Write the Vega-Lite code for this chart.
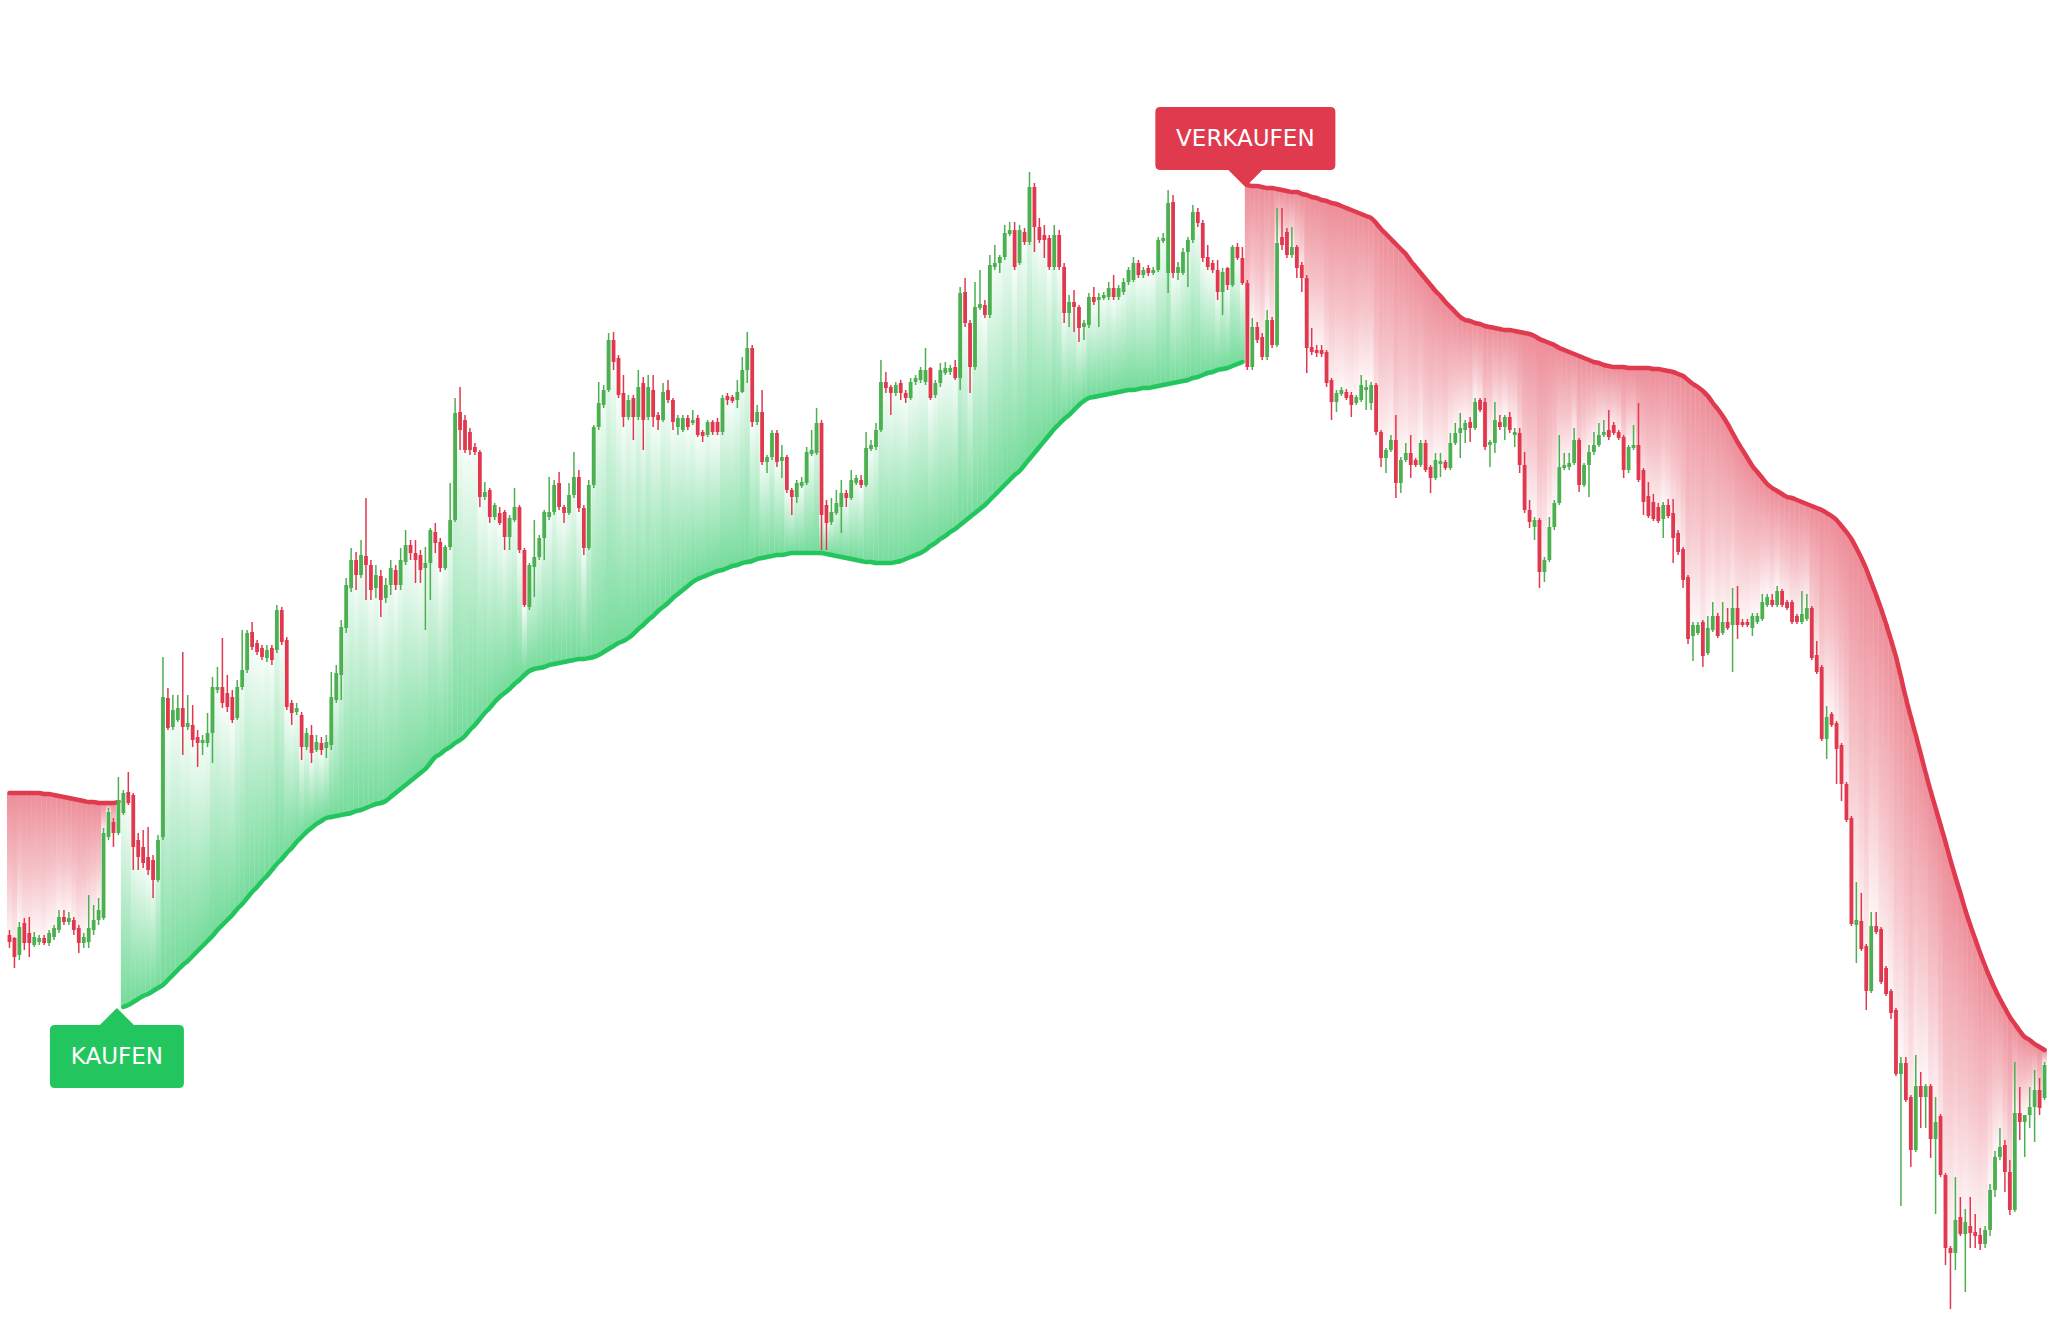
{
"$schema": "https://vega.github.io/schema/vega-lite/v6.json",
"width": 2054, "height": 1342,
"autosize": {"type": "fit", "contains": "padding"},
"padding": 0,
"background": "#ffffff",
"config": {"view": {"stroke": null}},
"datasets": {
"signals": [
{"i":21.7,"v":1008,"lbl":"KAUFEN"},
{"i":249.6,"v":187,"lbl":"VERKAUFEN"}
],
"candles": [
{"i":0,"o":935,"h":930,"l":948,"c":942,"s":793,"g":"a"},
{"i":1,"o":938,"h":937,"l":968,"c":957,"s":793,"g":"a"},
{"i":2,"o":955,"h":922,"l":960,"c":927,"s":793,"g":"a"},
{"i":3,"o":923,"h":918,"l":950,"c":943,"s":793,"g":"a"},
{"i":4,"o":933,"h":917,"l":957,"c":943,"s":793,"g":"a"},
{"i":5,"o":945,"h":932,"l":947,"c":937,"s":793,"g":"a"},
{"i":6,"o":942,"h":935,"l":945,"c":938,"s":793,"g":"a"},
{"i":7,"o":938,"h":935,"l":945,"c":943,"s":794,"g":"a"},
{"i":8,"o":943,"h":930,"l":946,"c":933,"s":794,"g":"a"},
{"i":9,"o":937,"h":925,"l":940,"c":928,"s":795,"g":"a"},
{"i":10,"o":930,"h":910,"l":933,"c":917,"s":796,"g":"a"},
{"i":11,"o":917,"h":910,"l":925,"c":922,"s":797,"g":"a"},
{"i":12,"o":922,"h":912,"l":925,"c":918,"s":798,"g":"a"},
{"i":13,"o":920,"h":917,"l":935,"c":930,"s":799,"g":"a"},
{"i":14,"o":928,"h":925,"l":953,"c":943,"s":800,"g":"a"},
{"i":15,"o":943,"h":933,"l":948,"c":937,"s":801,"g":"a"},
{"i":16,"o":942,"h":895,"l":948,"c":928,"s":802,"g":"a"},
{"i":17,"o":930,"h":905,"l":935,"c":920,"s":802,"g":"a"},
{"i":18,"o":920,"h":898,"l":925,"c":910,"s":803,"g":"a"},
{"i":19,"o":918,"h":828,"l":920,"c":833,"s":803,"g":"a"},
{"i":20,"o":837,"h":808,"l":840,"c":812,"s":803,"g":"a"},
{"i":21,"o":822,"h":818,"l":847,"c":833,"s":803,"g":"a"},
{"i":22,"o":833,"h":777,"l":835,"c":800,"s":802,"g":"a"},
{"i":23,"o":813,"h":790,"l":815,"c":793,"s":1007,"g":"b"},
{"i":24,"o":792,"h":772,"l":805,"c":803,"s":1005,"g":"b"},
{"i":25,"o":795,"h":793,"l":870,"c":847,"s":1002,"g":"b"},
{"i":26,"o":840,"h":833,"l":870,"c":857,"s":999,"g":"b"},
{"i":27,"o":847,"h":830,"l":868,"c":863,"s":996,"g":"b"},
{"i":28,"o":857,"h":827,"l":875,"c":870,"s":994,"g":"b"},
{"i":29,"o":860,"h":855,"l":898,"c":880,"s":991,"g":"b"},
{"i":30,"o":880,"h":835,"l":882,"c":840,"s":988,"g":"b"},
{"i":31,"o":837,"h":657,"l":840,"c":697,"s":985,"g":"b"},
{"i":32,"o":698,"h":688,"l":730,"c":728,"s":980,"g":"b"},
{"i":33,"o":727,"h":695,"l":730,"c":710,"s":975,"g":"b"},
{"i":34,"o":720,"h":695,"l":722,"c":708,"s":970,"g":"b"},
{"i":35,"o":708,"h":652,"l":755,"c":727,"s":965,"g":"b"},
{"i":36,"o":727,"h":695,"l":730,"c":723,"s":961,"g":"b"},
{"i":37,"o":725,"h":705,"l":747,"c":740,"s":956,"g":"b"},
{"i":38,"o":737,"h":730,"l":767,"c":743,"s":951,"g":"b"},
{"i":39,"o":743,"h":735,"l":755,"c":740,"s":946,"g":"b"},
{"i":40,"o":743,"h":713,"l":747,"c":733,"s":941,"g":"b"},
{"i":41,"o":733,"h":677,"l":763,"c":687,"s":936,"g":"b"},
{"i":42,"o":690,"h":667,"l":693,"c":687,"s":930,"g":"b"},
{"i":43,"o":687,"h":638,"l":708,"c":703,"s":925,"g":"b"},
{"i":44,"o":693,"h":675,"l":712,"c":707,"s":920,"g":"b"},
{"i":45,"o":697,"h":690,"l":723,"c":720,"s":915,"g":"b"},
{"i":46,"o":718,"h":680,"l":720,"c":687,"s":909,"g":"b"},
{"i":47,"o":687,"h":630,"l":690,"c":670,"s":904,"g":"b"},
{"i":48,"o":670,"h":630,"l":673,"c":633,"s":898,"g":"b"},
{"i":49,"o":632,"h":622,"l":650,"c":647,"s":892,"g":"b"},
{"i":50,"o":643,"h":640,"l":655,"c":652,"s":887,"g":"b"},
{"i":51,"o":648,"h":645,"l":660,"c":657,"s":881,"g":"b"},
{"i":52,"o":658,"h":645,"l":662,"c":650,"s":876,"g":"b"},
{"i":53,"o":648,"h":645,"l":665,"c":660,"s":870,"g":"b"},
{"i":54,"o":650,"h":605,"l":653,"c":610,"s":864,"g":"b"},
{"i":55,"o":610,"h":607,"l":645,"c":642,"s":859,"g":"b"},
{"i":56,"o":640,"h":637,"l":710,"c":707,"s":853,"g":"b"},
{"i":57,"o":703,"h":700,"l":725,"c":713,"s":848,"g":"b"},
{"i":58,"o":712,"h":703,"l":715,"c":708,"s":842,"g":"b"},
{"i":59,"o":715,"h":712,"l":760,"c":747,"s":837,"g":"b"},
{"i":60,"o":747,"h":728,"l":750,"c":733,"s":832,"g":"b"},
{"i":61,"o":735,"h":725,"l":763,"c":753,"s":828,"g":"b"},
{"i":62,"o":750,"h":735,"l":752,"c":742,"s":824,"g":"b"},
{"i":63,"o":743,"h":737,"l":755,"c":750,"s":821,"g":"b"},
{"i":64,"o":748,"h":735,"l":758,"c":742,"s":818,"g":"b"},
{"i":65,"o":745,"h":672,"l":750,"c":697,"s":817,"g":"b"},
{"i":66,"o":700,"h":665,"l":703,"c":673,"s":816,"g":"b"},
{"i":67,"o":675,"h":620,"l":700,"c":627,"s":815,"g":"b"},
{"i":68,"o":628,"h":578,"l":633,"c":585,"s":814,"g":"b"},
{"i":69,"o":588,"h":548,"l":592,"c":560,"s":813,"g":"b"},
{"i":70,"o":560,"h":552,"l":590,"c":575,"s":811,"g":"b"},
{"i":71,"o":575,"h":540,"l":578,"c":555,"s":810,"g":"b"},
{"i":72,"o":556,"h":498,"l":600,"c":565,"s":808,"g":"b"},
{"i":73,"o":565,"h":560,"l":600,"c":590,"s":806,"g":"b"},
{"i":74,"o":588,"h":565,"l":598,"c":575,"s":804,"g":"b"},
{"i":75,"o":576,"h":570,"l":617,"c":600,"s":803,"g":"b"},
{"i":76,"o":598,"h":578,"l":603,"c":585,"s":801,"g":"b"},
{"i":77,"o":585,"h":560,"l":595,"c":568,"s":797,"g":"b"},
{"i":78,"o":570,"h":565,"l":590,"c":585,"s":793,"g":"b"},
{"i":79,"o":585,"h":548,"l":590,"c":560,"s":789,"g":"b"},
{"i":80,"o":562,"h":530,"l":565,"c":545,"s":785,"g":"b"},
{"i":81,"o":545,"h":540,"l":560,"c":553,"s":781,"g":"b"},
{"i":82,"o":553,"h":540,"l":583,"c":560,"s":777,"g":"b"},
{"i":83,"o":555,"h":550,"l":583,"c":570,"s":773,"g":"b"},
{"i":84,"o":568,"h":547,"l":630,"c":563,"s":769,"g":"b"},
{"i":85,"o":563,"h":528,"l":600,"c":530,"s":763,"g":"b"},
{"i":86,"o":532,"h":523,"l":553,"c":543,"s":757,"g":"b"},
{"i":87,"o":542,"h":538,"l":572,"c":568,"s":754,"g":"b"},
{"i":88,"o":568,"h":545,"l":570,"c":547,"s":750,"g":"b"},
{"i":89,"o":547,"h":483,"l":550,"c":520,"s":747,"g":"b"},
{"i":90,"o":520,"h":398,"l":522,"c":413,"s":743,"g":"b"},
{"i":91,"o":412,"h":387,"l":450,"c":430,"s":740,"g":"b"},
{"i":92,"o":420,"h":415,"l":453,"c":450,"s":736,"g":"b"},
{"i":93,"o":432,"h":428,"l":455,"c":450,"s":730,"g":"b"},
{"i":94,"o":447,"h":443,"l":455,"c":452,"s":725,"g":"b"},
{"i":95,"o":452,"h":450,"l":507,"c":497,"s":719,"g":"b"},
{"i":96,"o":497,"h":482,"l":500,"c":492,"s":713,"g":"b"},
{"i":97,"o":490,"h":488,"l":523,"c":517,"s":708,"g":"b"},
{"i":98,"o":517,"h":503,"l":520,"c":505,"s":702,"g":"b"},
{"i":99,"o":513,"h":507,"l":525,"c":523,"s":697,"g":"b"},
{"i":100,"o":512,"h":510,"l":550,"c":537,"s":693,"g":"b"},
{"i":101,"o":537,"h":515,"l":550,"c":518,"s":689,"g":"b"},
{"i":102,"o":520,"h":488,"l":522,"c":507,"s":684,"g":"b"},
{"i":103,"o":507,"h":505,"l":553,"c":550,"s":680,"g":"b"},
{"i":104,"o":550,"h":548,"l":607,"c":605,"s":675,"g":"b"},
{"i":105,"o":607,"h":563,"l":610,"c":565,"s":671,"g":"b"},
{"i":106,"o":567,"h":520,"l":597,"c":557,"s":669,"g":"b"},
{"i":107,"o":557,"h":535,"l":560,"c":538,"s":668,"g":"b"},
{"i":108,"o":538,"h":510,"l":560,"c":512,"s":667,"g":"b"},
{"i":109,"o":517,"h":477,"l":520,"c":512,"s":665,"g":"b"},
{"i":110,"o":512,"h":480,"l":515,"c":485,"s":664,"g":"b"},
{"i":111,"o":483,"h":472,"l":510,"c":507,"s":663,"g":"b"},
{"i":112,"o":507,"h":505,"l":523,"c":513,"s":662,"g":"b"},
{"i":113,"o":513,"h":483,"l":515,"c":495,"s":661,"g":"b"},
{"i":114,"o":495,"h":452,"l":498,"c":477,"s":660,"g":"b"},
{"i":115,"o":477,"h":470,"l":512,"c":508,"s":659,"g":"b"},
{"i":116,"o":508,"h":505,"l":555,"c":548,"s":659,"g":"b"},
{"i":117,"o":548,"h":480,"l":550,"c":485,"s":658,"g":"b"},
{"i":118,"o":485,"h":425,"l":488,"c":427,"s":657,"g":"b"},
{"i":119,"o":427,"h":382,"l":430,"c":403,"s":655,"g":"b"},
{"i":120,"o":405,"h":385,"l":408,"c":390,"s":652,"g":"b"},
{"i":121,"o":390,"h":333,"l":392,"c":340,"s":649,"g":"b"},
{"i":122,"o":340,"h":332,"l":370,"c":362,"s":646,"g":"b"},
{"i":123,"o":358,"h":355,"l":398,"c":395,"s":643,"g":"b"},
{"i":124,"o":393,"h":375,"l":427,"c":417,"s":641,"g":"b"},
{"i":125,"o":417,"h":395,"l":420,"c":400,"s":638,"g":"b"},
{"i":126,"o":398,"h":395,"l":440,"c":417,"s":634,"g":"b"},
{"i":127,"o":417,"h":370,"l":420,"c":387,"s":629,"g":"b"},
{"i":128,"o":383,"h":377,"l":450,"c":420,"s":625,"g":"b"},
{"i":129,"o":417,"h":375,"l":420,"c":387,"s":620,"g":"b"},
{"i":130,"o":390,"h":375,"l":427,"c":417,"s":616,"g":"b"},
{"i":131,"o":415,"h":412,"l":430,"c":420,"s":611,"g":"b"},
{"i":132,"o":420,"h":383,"l":422,"c":392,"s":607,"g":"b"},
{"i":133,"o":390,"h":380,"l":403,"c":400,"s":603,"g":"b"},
{"i":134,"o":400,"h":398,"l":430,"c":422,"s":598,"g":"b"},
{"i":135,"o":427,"h":415,"l":435,"c":418,"s":594,"g":"b"},
{"i":136,"o":430,"h":415,"l":432,"c":418,"s":590,"g":"b"},
{"i":137,"o":418,"h":415,"l":430,"c":427,"s":586,"g":"b"},
{"i":138,"o":423,"h":410,"l":425,"c":420,"s":582,"g":"b"},
{"i":139,"o":418,"h":415,"l":437,"c":435,"s":579,"g":"b"},
{"i":140,"o":432,"h":430,"l":442,"c":436,"s":577,"g":"b"},
{"i":141,"o":435,"h":420,"l":437,"c":422,"s":575,"g":"b"},
{"i":142,"o":422,"h":420,"l":435,"c":432,"s":573,"g":"b"},
{"i":143,"o":422,"h":418,"l":435,"c":432,"s":571,"g":"b"},
{"i":144,"o":432,"h":395,"l":435,"c":398,"s":570,"g":"b"},
{"i":145,"o":396,"h":393,"l":405,"c":400,"s":568,"g":"b"},
{"i":146,"o":397,"h":395,"l":403,"c":401,"s":566,"g":"b"},
{"i":147,"o":400,"h":380,"l":408,"c":392,"s":565,"g":"b"},
{"i":148,"o":392,"h":357,"l":393,"c":370,"s":563,"g":"b"},
{"i":149,"o":370,"h":332,"l":383,"c":348,"s":562,"g":"b"},
{"i":150,"o":348,"h":345,"l":427,"c":422,"s":561,"g":"b"},
{"i":151,"o":422,"h":405,"l":425,"c":412,"s":559,"g":"b"},
{"i":152,"o":412,"h":390,"l":465,"c":462,"s":558,"g":"b"},
{"i":153,"o":462,"h":455,"l":473,"c":457,"s":557,"g":"b"},
{"i":154,"o":457,"h":430,"l":460,"c":433,"s":556,"g":"b"},
{"i":155,"o":433,"h":430,"l":467,"c":462,"s":555,"g":"b"},
{"i":156,"o":461,"h":445,"l":478,"c":457,"s":555,"g":"b"},
{"i":157,"o":457,"h":455,"l":493,"c":490,"s":554,"g":"b"},
{"i":158,"o":490,"h":488,"l":515,"c":497,"s":553,"g":"b"},
{"i":159,"o":497,"h":480,"l":503,"c":483,"s":553,"g":"b"},
{"i":160,"o":486,"h":477,"l":488,"c":482,"s":553,"g":"b"},
{"i":161,"o":483,"h":447,"l":485,"c":452,"s":553,"g":"b"},
{"i":162,"o":454,"h":430,"l":456,"c":450,"s":553,"g":"b"},
{"i":163,"o":453,"h":408,"l":455,"c":423,"s":553,"g":"b"},
{"i":164,"o":423,"h":420,"l":550,"c":515,"s":553,"g":"b"},
{"i":165,"o":505,"h":500,"l":550,"c":523,"s":554,"g":"b"},
{"i":166,"o":522,"h":498,"l":525,"c":512,"s":555,"g":"b"},
{"i":167,"o":513,"h":490,"l":515,"c":503,"s":556,"g":"b"},
{"i":168,"o":507,"h":480,"l":533,"c":493,"s":557,"g":"b"},
{"i":169,"o":493,"h":490,"l":507,"c":498,"s":558,"g":"b"},
{"i":170,"o":498,"h":470,"l":500,"c":480,"s":559,"g":"b"},
{"i":171,"o":483,"h":475,"l":485,"c":478,"s":560,"g":"b"},
{"i":172,"o":480,"h":475,"l":488,"c":485,"s":561,"g":"b"},
{"i":173,"o":485,"h":432,"l":487,"c":448,"s":562,"g":"b"},
{"i":174,"o":449,"h":440,"l":451,"c":445,"s":562,"g":"b"},
{"i":175,"o":447,"h":423,"l":450,"c":430,"s":563,"g":"b"},
{"i":176,"o":430,"h":360,"l":432,"c":382,"s":563,"g":"b"},
{"i":177,"o":382,"h":372,"l":393,"c":388,"s":563,"g":"b"},
{"i":178,"o":387,"h":385,"l":415,"c":393,"s":563,"g":"b"},
{"i":179,"o":393,"h":382,"l":396,"c":385,"s":562,"g":"b"},
{"i":180,"o":383,"h":380,"l":400,"c":393,"s":561,"g":"b"},
{"i":181,"o":393,"h":390,"l":403,"c":398,"s":559,"g":"b"},
{"i":182,"o":398,"h":378,"l":400,"c":382,"s":557,"g":"b"},
{"i":183,"o":382,"h":375,"l":385,"c":378,"s":555,"g":"b"},
{"i":184,"o":380,"h":367,"l":383,"c":370,"s":553,"g":"b"},
{"i":185,"o":382,"h":348,"l":385,"c":370,"s":550,"g":"b"},
{"i":186,"o":368,"h":367,"l":400,"c":398,"s":546,"g":"b"},
{"i":187,"o":395,"h":380,"l":398,"c":383,"s":543,"g":"b"},
{"i":188,"o":383,"h":363,"l":387,"c":370,"s":539,"g":"b"},
{"i":189,"o":373,"h":362,"l":375,"c":368,"s":536,"g":"b"},
{"i":190,"o":372,"h":365,"l":375,"c":368,"s":532,"g":"b"},
{"i":191,"o":367,"h":360,"l":380,"c":378,"s":529,"g":"b"},
{"i":192,"o":378,"h":287,"l":390,"c":293,"s":525,"g":"b"},
{"i":193,"o":292,"h":278,"l":327,"c":323,"s":521,"g":"b"},
{"i":194,"o":323,"h":320,"l":393,"c":367,"s":517,"g":"b"},
{"i":195,"o":367,"h":282,"l":370,"c":307,"s":513,"g":"b"},
{"i":196,"o":308,"h":270,"l":310,"c":304,"s":509,"g":"b"},
{"i":197,"o":305,"h":300,"l":318,"c":315,"s":505,"g":"b"},
{"i":198,"o":315,"h":255,"l":318,"c":265,"s":500,"g":"b"},
{"i":199,"o":267,"h":245,"l":270,"c":263,"s":495,"g":"b"},
{"i":200,"o":263,"h":255,"l":273,"c":257,"s":490,"g":"b"},
{"i":201,"o":257,"h":225,"l":260,"c":233,"s":485,"g":"b"},
{"i":202,"o":234,"h":222,"l":236,"c":230,"s":480,"g":"b"},
{"i":203,"o":230,"h":222,"l":270,"c":267,"s":475,"g":"b"},
{"i":204,"o":263,"h":225,"l":265,"c":230,"s":471,"g":"b"},
{"i":205,"o":232,"h":228,"l":245,"c":242,"s":465,"g":"b"},
{"i":206,"o":242,"h":172,"l":245,"c":187,"s":459,"g":"b"},
{"i":207,"o":187,"h":183,"l":252,"c":227,"s":453,"g":"b"},
{"i":208,"o":227,"h":218,"l":243,"c":240,"s":447,"g":"b"},
{"i":209,"o":235,"h":225,"l":258,"c":240,"s":441,"g":"b"},
{"i":210,"o":238,"h":235,"l":270,"c":267,"s":435,"g":"b"},
{"i":211,"o":267,"h":225,"l":270,"c":235,"s":429,"g":"b"},
{"i":212,"o":235,"h":230,"l":270,"c":267,"s":424,"g":"b"},
{"i":213,"o":267,"h":263,"l":323,"c":313,"s":419,"g":"b"},
{"i":214,"o":313,"h":295,"l":327,"c":302,"s":415,"g":"b"},
{"i":215,"o":302,"h":290,"l":332,"c":307,"s":410,"g":"b"},
{"i":216,"o":307,"h":305,"l":342,"c":328,"s":405,"g":"b"},
{"i":217,"o":327,"h":320,"l":340,"c":323,"s":401,"g":"b"},
{"i":218,"o":325,"h":293,"l":328,"c":297,"s":398,"g":"b"},
{"i":219,"o":297,"h":287,"l":305,"c":302,"s":397,"g":"b"},
{"i":220,"o":300,"h":293,"l":327,"c":297,"s":396,"g":"b"},
{"i":221,"o":298,"h":292,"l":300,"c":295,"s":395,"g":"b"},
{"i":222,"o":297,"h":282,"l":300,"c":288,"s":394,"g":"b"},
{"i":223,"o":288,"h":275,"l":300,"c":297,"s":393,"g":"b"},
{"i":224,"o":297,"h":285,"l":300,"c":288,"s":392,"g":"b"},
{"i":225,"o":292,"h":278,"l":295,"c":282,"s":391,"g":"b"},
{"i":226,"o":282,"h":267,"l":285,"c":270,"s":390,"g":"b"},
{"i":227,"o":280,"h":257,"l":282,"c":263,"s":390,"g":"b"},
{"i":228,"o":263,"h":260,"l":278,"c":275,"s":389,"g":"b"},
{"i":229,"o":275,"h":267,"l":278,"c":270,"s":388,"g":"b"},
{"i":230,"o":268,"h":265,"l":276,"c":273,"s":388,"g":"b"},
{"i":231,"o":273,"h":267,"l":275,"c":270,"s":387,"g":"b"},
{"i":232,"o":270,"h":237,"l":272,"c":240,"s":386,"g":"b"},
{"i":233,"o":241,"h":233,"l":243,"c":238,"s":385,"g":"b"},
{"i":234,"o":273,"h":190,"l":293,"c":203,"s":384,"g":"b"},
{"i":235,"o":202,"h":195,"l":278,"c":273,"s":383,"g":"b"},
{"i":236,"o":273,"h":262,"l":280,"c":267,"s":382,"g":"b"},
{"i":237,"o":273,"h":248,"l":275,"c":252,"s":381,"g":"b"},
{"i":238,"o":252,"h":237,"l":287,"c":240,"s":380,"g":"b"},
{"i":239,"o":240,"h":205,"l":243,"c":212,"s":378,"g":"b"},
{"i":240,"o":212,"h":208,"l":227,"c":223,"s":377,"g":"b"},
{"i":241,"o":223,"h":220,"l":262,"c":258,"s":375,"g":"b"},
{"i":242,"o":257,"h":245,"l":270,"c":267,"s":373,"g":"b"},
{"i":243,"o":263,"h":260,"l":273,"c":270,"s":372,"g":"b"},
{"i":244,"o":270,"h":260,"l":300,"c":292,"s":370,"g":"b"},
{"i":245,"o":292,"h":268,"l":315,"c":272,"s":369,"g":"b"},
{"i":246,"o":268,"h":267,"l":290,"c":285,"s":368,"g":"b"},
{"i":247,"o":285,"h":245,"l":287,"c":247,"s":366,"g":"b"},
{"i":248,"o":247,"h":243,"l":260,"c":258,"s":364,"g":"b"},
{"i":249,"o":258,"h":247,"l":285,"c":283,"s":362,"g":"b"},
{"i":250,"o":283,"h":280,"l":370,"c":367,"s":185,"g":"c"},
{"i":251,"o":367,"h":318,"l":370,"c":327,"s":186,"g":"c"},
{"i":252,"o":327,"h":322,"l":343,"c":340,"s":186,"g":"c"},
{"i":253,"o":337,"h":333,"l":360,"c":357,"s":187,"g":"c"},
{"i":254,"o":357,"h":310,"l":360,"c":320,"s":188,"g":"c"},
{"i":255,"o":320,"h":317,"l":348,"c":345,"s":188,"g":"c"},
{"i":256,"o":345,"h":208,"l":347,"c":243,"s":189,"g":"c"},
{"i":257,"o":237,"h":208,"l":250,"c":245,"s":190,"g":"c"},
{"i":258,"o":232,"h":228,"l":258,"c":255,"s":191,"g":"c"},
{"i":259,"o":255,"h":227,"l":258,"c":247,"s":192,"g":"c"},
{"i":260,"o":247,"h":245,"l":278,"c":268,"s":192,"g":"c"},
{"i":261,"o":265,"h":262,"l":292,"c":278,"s":194,"g":"c"},
{"i":262,"o":278,"h":275,"l":373,"c":348,"s":195,"g":"c"},
{"i":263,"o":347,"h":328,"l":355,"c":352,"s":197,"g":"c"},
{"i":264,"o":350,"h":345,"l":357,"c":353,"s":198,"g":"c"},
{"i":265,"o":350,"h":345,"l":357,"c":354,"s":200,"g":"c"},
{"i":266,"o":352,"h":350,"l":387,"c":383,"s":201,"g":"c"},
{"i":267,"o":380,"h":378,"l":420,"c":402,"s":203,"g":"c"},
{"i":268,"o":402,"h":390,"l":412,"c":393,"s":204,"g":"c"},
{"i":269,"o":394,"h":387,"l":396,"c":390,"s":206,"g":"c"},
{"i":270,"o":392,"h":389,"l":400,"c":398,"s":208,"g":"c"},
{"i":271,"o":395,"h":392,"l":417,"c":405,"s":210,"g":"c"},
{"i":272,"o":403,"h":395,"l":405,"c":397,"s":212,"g":"c"},
{"i":273,"o":400,"h":375,"l":402,"c":385,"s":214,"g":"c"},
{"i":274,"o":390,"h":380,"l":410,"c":387,"s":216,"g":"c"},
{"i":275,"o":403,"h":382,"l":410,"c":385,"s":218,"g":"c"},
{"i":276,"o":385,"h":383,"l":435,"c":432,"s":223,"g":"c"},
{"i":277,"o":432,"h":430,"l":467,"c":458,"s":229,"g":"c"},
{"i":278,"o":458,"h":448,"l":473,"c":450,"s":234,"g":"c"},
{"i":279,"o":450,"h":435,"l":452,"c":440,"s":239,"g":"c"},
{"i":280,"o":440,"h":415,"l":498,"c":483,"s":244,"g":"c"},
{"i":281,"o":483,"h":457,"l":493,"c":460,"s":249,"g":"c"},
{"i":282,"o":460,"h":443,"l":462,"c":453,"s":254,"g":"c"},
{"i":283,"o":453,"h":435,"l":478,"c":465,"s":261,"g":"c"},
{"i":284,"o":460,"h":458,"l":467,"c":465,"s":267,"g":"c"},
{"i":285,"o":465,"h":440,"l":467,"c":443,"s":273,"g":"c"},
{"i":286,"o":443,"h":440,"l":472,"c":470,"s":279,"g":"c"},
{"i":287,"o":467,"h":465,"l":493,"c":478,"s":285,"g":"c"},
{"i":288,"o":478,"h":453,"l":480,"c":460,"s":291,"g":"c"},
{"i":289,"o":464,"h":453,"l":477,"c":461,"s":296,"g":"c"},
{"i":290,"o":462,"h":460,"l":470,"c":468,"s":302,"g":"c"},
{"i":291,"o":468,"h":433,"l":470,"c":443,"s":307,"g":"c"},
{"i":292,"o":443,"h":423,"l":445,"c":433,"s":312,"g":"c"},
{"i":293,"o":433,"h":413,"l":458,"c":428,"s":317,"g":"c"},
{"i":294,"o":430,"h":420,"l":443,"c":423,"s":320,"g":"c"},
{"i":295,"o":422,"h":417,"l":442,"c":428,"s":321,"g":"c"},
{"i":296,"o":428,"h":398,"l":430,"c":402,"s":323,"g":"c"},
{"i":297,"o":400,"h":398,"l":412,"c":410,"s":324,"g":"c"},
{"i":298,"o":402,"h":398,"l":450,"c":447,"s":326,"g":"c"},
{"i":299,"o":445,"h":440,"l":467,"c":442,"s":327,"g":"c"},
{"i":300,"o":443,"h":402,"l":453,"c":420,"s":328,"g":"c"},
{"i":301,"o":422,"h":415,"l":430,"c":427,"s":329,"g":"c"},
{"i":302,"o":427,"h":415,"l":440,"c":417,"s":330,"g":"c"},
{"i":303,"o":417,"h":412,"l":433,"c":430,"s":330,"g":"c"},
{"i":304,"o":435,"h":428,"l":447,"c":432,"s":331,"g":"c"},
{"i":305,"o":433,"h":428,"l":473,"c":465,"s":332,"g":"c"},
{"i":306,"o":465,"h":452,"l":513,"c":510,"s":333,"g":"c"},
{"i":307,"o":510,"h":500,"l":528,"c":522,"s":334,"g":"c"},
{"i":308,"o":527,"h":517,"l":540,"c":520,"s":336,"g":"c"},
{"i":309,"o":520,"h":518,"l":588,"c":572,"s":339,"g":"c"},
{"i":310,"o":572,"h":557,"l":582,"c":560,"s":341,"g":"c"},
{"i":311,"o":560,"h":517,"l":562,"c":527,"s":343,"g":"c"},
{"i":312,"o":527,"h":500,"l":530,"c":503,"s":345,"g":"c"},
{"i":313,"o":503,"h":435,"l":505,"c":467,"s":348,"g":"c"},
{"i":314,"o":468,"h":453,"l":470,"c":465,"s":350,"g":"c"},
{"i":315,"o":467,"h":453,"l":470,"c":463,"s":352,"g":"c"},
{"i":316,"o":463,"h":428,"l":465,"c":440,"s":354,"g":"c"},
{"i":317,"o":440,"h":438,"l":492,"c":485,"s":356,"g":"c"},
{"i":318,"o":485,"h":463,"l":487,"c":465,"s":358,"g":"c"},
{"i":319,"o":465,"h":445,"l":497,"c":452,"s":360,"g":"c"},
{"i":320,"o":452,"h":432,"l":455,"c":445,"s":362,"g":"c"},
{"i":321,"o":445,"h":423,"l":447,"c":435,"s":363,"g":"c"},
{"i":322,"o":435,"h":420,"l":437,"c":432,"s":365,"g":"c"},
{"i":323,"o":430,"h":410,"l":440,"c":437,"s":366,"g":"c"},
{"i":324,"o":425,"h":422,"l":435,"c":433,"s":367,"g":"c"},
{"i":325,"o":432,"h":430,"l":440,"c":438,"s":367,"g":"c"},
{"i":326,"o":437,"h":435,"l":478,"c":470,"s":367,"g":"c"},
{"i":327,"o":470,"h":445,"l":473,"c":447,"s":368,"g":"c"},
{"i":328,"o":448,"h":425,"l":450,"c":445,"s":368,"g":"c"},
{"i":329,"o":445,"h":403,"l":482,"c":480,"s":368,"g":"c"},
{"i":330,"o":470,"h":468,"l":515,"c":502,"s":368,"g":"c"},
{"i":331,"o":496,"h":482,"l":518,"c":516,"s":368,"g":"c"},
{"i":332,"o":502,"h":494,"l":521,"c":519,"s":369,"g":"c"},
{"i":333,"o":507,"h":503,"l":523,"c":521,"s":369,"g":"c"},
{"i":334,"o":519,"h":502,"l":538,"c":505,"s":370,"g":"c"},
{"i":335,"o":505,"h":499,"l":518,"c":516,"s":371,"g":"c"},
{"i":336,"o":513,"h":499,"l":563,"c":538,"s":372,"g":"c"},
{"i":337,"o":533,"h":530,"l":555,"c":552,"s":374,"g":"c"},
{"i":338,"o":549,"h":547,"l":588,"c":580,"s":376,"g":"c"},
{"i":339,"o":577,"h":575,"l":644,"c":639,"s":380,"g":"c"},
{"i":340,"o":636,"h":622,"l":661,"c":625,"s":384,"g":"c"},
{"i":341,"o":633,"h":622,"l":635,"c":625,"s":387,"g":"c"},
{"i":342,"o":622,"h":620,"l":667,"c":656,"s":391,"g":"c"},
{"i":343,"o":653,"h":616,"l":655,"c":628,"s":396,"g":"c"},
{"i":344,"o":630,"h":602,"l":632,"c":616,"s":403,"g":"c"},
{"i":345,"o":616,"h":613,"l":638,"c":636,"s":409,"g":"c"},
{"i":346,"o":633,"h":602,"l":635,"c":622,"s":416,"g":"c"},
{"i":347,"o":622,"h":608,"l":630,"c":628,"s":424,"g":"c"},
{"i":348,"o":625,"h":588,"l":672,"c":608,"s":433,"g":"c"},
{"i":349,"o":608,"h":586,"l":639,"c":625,"s":442,"g":"c"},
{"i":350,"o":622,"h":619,"l":627,"c":625,"s":450,"g":"c"},
{"i":351,"o":622,"h":619,"l":627,"c":625,"s":458,"g":"c"},
{"i":352,"o":628,"h":613,"l":636,"c":616,"s":466,"g":"c"},
{"i":353,"o":622,"h":613,"l":624,"c":616,"s":472,"g":"c"},
{"i":354,"o":619,"h":594,"l":621,"c":602,"s":478,"g":"c"},
{"i":355,"o":605,"h":594,"l":607,"c":597,"s":484,"g":"c"},
{"i":356,"o":600,"h":594,"l":607,"c":605,"s":488,"g":"c"},
{"i":357,"o":605,"h":586,"l":607,"c":591,"s":491,"g":"c"},
{"i":358,"o":591,"h":589,"l":607,"c":605,"s":494,"g":"c"},
{"i":359,"o":602,"h":600,"l":610,"c":608,"s":497,"g":"c"},
{"i":360,"o":602,"h":600,"l":624,"c":622,"s":498,"g":"c"},
{"i":361,"o":616,"h":614,"l":624,"c":622,"s":500,"g":"c"},
{"i":362,"o":622,"h":591,"l":624,"c":614,"s":502,"g":"c"},
{"i":363,"o":619,"h":594,"l":621,"c":608,"s":504,"g":"c"},
{"i":364,"o":608,"h":606,"l":660,"c":658,"s":506,"g":"c"},
{"i":365,"o":655,"h":641,"l":674,"c":672,"s":508,"g":"c"},
{"i":366,"o":667,"h":665,"l":741,"c":739,"s":510,"g":"c"},
{"i":367,"o":739,"h":706,"l":759,"c":717,"s":513,"g":"c"},
{"i":368,"o":714,"h":712,"l":727,"c":725,"s":516,"g":"c"},
{"i":369,"o":723,"h":721,"l":784,"c":749,"s":520,"g":"c"},
{"i":370,"o":745,"h":743,"l":801,"c":784,"s":526,"g":"c"},
{"i":371,"o":784,"h":782,"l":822,"c":820,"s":532,"g":"c"},
{"i":372,"o":818,"h":816,"l":926,"c":924,"s":539,"g":"c"},
{"i":373,"o":925,"h":882,"l":963,"c":920,"s":548,"g":"c"},
{"i":374,"o":921,"h":893,"l":951,"c":949,"s":558,"g":"c"},
{"i":375,"o":946,"h":944,"l":1010,"c":991,"s":569,"g":"c"},
{"i":376,"o":991,"h":912,"l":993,"c":926,"s":582,"g":"c"},
{"i":377,"o":926,"h":912,"l":934,"c":932,"s":595,"g":"c"},
{"i":378,"o":929,"h":927,"l":984,"c":982,"s":609,"g":"c"},
{"i":379,"o":968,"h":966,"l":996,"c":994,"s":624,"g":"c"},
{"i":380,"o":991,"h":989,"l":1019,"c":1013,"s":640,"g":"c"},
{"i":381,"o":1010,"h":1008,"l":1076,"c":1074,"s":657,"g":"c"},
{"i":382,"o":1074,"h":1057,"l":1206,"c":1063,"s":677,"g":"c"},
{"i":383,"o":1063,"h":1057,"l":1102,"c":1100,"s":698,"g":"c"},
{"i":384,"o":1097,"h":1095,"l":1167,"c":1150,"s":717,"g":"c"},
{"i":385,"o":1150,"h":1055,"l":1152,"c":1086,"s":735,"g":"c"},
{"i":386,"o":1086,"h":1072,"l":1128,"c":1097,"s":754,"g":"c"},
{"i":387,"o":1097,"h":1084,"l":1128,"c":1086,"s":773,"g":"c"},
{"i":388,"o":1086,"h":1084,"l":1158,"c":1139,"s":791,"g":"c"},
{"i":389,"o":1139,"h":1097,"l":1214,"c":1122,"s":808,"g":"c"},
{"i":390,"o":1116,"h":1114,"l":1177,"c":1175,"s":825,"g":"c"},
{"i":391,"o":1175,"h":1173,"l":1265,"c":1248,"s":842,"g":"c"},
{"i":392,"o":1248,"h":1246,"l":1309,"c":1253,"s":860,"g":"c"},
{"i":393,"o":1253,"h":1177,"l":1270,"c":1220,"s":877,"g":"c"},
{"i":394,"o":1217,"h":1197,"l":1236,"c":1234,"s":893,"g":"c"},
{"i":395,"o":1234,"h":1209,"l":1292,"c":1222,"s":910,"g":"c"},
{"i":396,"o":1226,"h":1197,"l":1248,"c":1233,"s":925,"g":"c"},
{"i":397,"o":1232,"h":1214,"l":1248,"c":1236,"s":939,"g":"c"},
{"i":398,"o":1235,"h":1228,"l":1250,"c":1244,"s":953,"g":"c"},
{"i":399,"o":1244,"h":1226,"l":1248,"c":1230,"s":966,"g":"c"},
{"i":400,"o":1230,"h":1184,"l":1236,"c":1190,"s":978,"g":"c"},
{"i":401,"o":1190,"h":1151,"l":1197,"c":1157,"s":989,"g":"c"},
{"i":402,"o":1157,"h":1128,"l":1160,"c":1147,"s":999,"g":"c"},
{"i":403,"o":1145,"h":1140,"l":1192,"c":1172,"s":1008,"g":"c"},
{"i":404,"o":1172,"h":1160,"l":1215,"c":1210,"s":1017,"g":"c"},
{"i":405,"o":1210,"h":1062,"l":1212,"c":1113,"s":1024,"g":"c"},
{"i":406,"o":1113,"h":1087,"l":1140,"c":1122,"s":1031,"g":"c"},
{"i":407,"o":1122,"h":1115,"l":1157,"c":1115,"s":1037,"g":"c"},
{"i":408,"o":1115,"h":1087,"l":1128,"c":1107,"s":1040,"g":"c"},
{"i":409,"o":1107,"h":1070,"l":1142,"c":1090,"s":1044,"g":"c"},
{"i":410,"o":1090,"h":1078,"l":1115,"c":1108,"s":1047,"g":"c"},
{"i":411,"o":1098,"h":1062,"l":1100,"c":1065,"s":1050,"g":"c"}
]
},
"data": {"name": "candles"},
"layer": [
{
"transform": [{"filter": "datum.g == 'b'"}],
"mark": {"type": "bar", "width": 5.0, "fill": {"gradient": "linear", "x1": 0, "y1": 1, "x2": 0, "y2": 0, "stops": [{"offset": 0, "color": "rgba(34,197,94,0.62)"}, {"offset": 0.55, "color": "rgba(34,197,94,0.3)"}, {"offset": 1, "color": "rgba(34,197,94,0.03)"}]}},
"encoding": {
"x": {"field": "i", "type": "quantitative", "scale": {"domain": [-0.5, 411.5], "nice": false, "zero": false}, "axis": null},
"y": {"field": "s", "type": "quantitative", "scale": {"domain": [0, 1342], "reverse": true, "nice": false, "zero": false}, "axis": null},
"y2": {"field": "c"}
}
},
{
"transform": [{"filter": "datum.g != 'b'"}],
"mark": {"type": "bar", "width": 5.0, "fill": {"gradient": "linear", "x1": 0, "y1": 0, "x2": 0, "y2": 1, "stops": [{"offset": 0, "color": "rgba(224,60,79,0.58)"}, {"offset": 0.55, "color": "rgba(224,60,79,0.3)"}, {"offset": 1, "color": "rgba(224,60,79,0.03)"}]}},
"encoding": {
"x": {"field": "i", "type": "quantitative"},
"y": {"field": "s", "type": "quantitative"},
"y2": {"field": "c"}
}
},
{
"transform": [{"filter": "datum.g == 'b'"}],
"mark": {"type": "line", "interpolate": "monotone", "strokeWidth": 4.5, "strokeCap": "round", "color": "#22c55e"},
"encoding": {
"x": {"field": "i", "type": "quantitative"},
"y": {"field": "s", "type": "quantitative"}
}
},
{
"transform": [{"filter": "datum.g != 'b'"}],
"mark": {"type": "line", "interpolate": "monotone", "strokeWidth": 4.5, "strokeCap": "round", "color": "#df3a4e"},
"encoding": {
"x": {"field": "i", "type": "quantitative"},
"y": {"field": "s", "type": "quantitative"},
"detail": {"field": "g", "type": "nominal"}
}
},
{
"mark": {"type": "rule", "strokeWidth": 1.5},
"encoding": {
"x": {"field": "i", "type": "quantitative"},
"y": {"field": "h", "type": "quantitative"},
"y2": {"field": "l"},
"color": {"condition": {"test": "datum.c < datum.o", "value": "#4caf50"}, "value": "#e0394f"}
}
},
{
"mark": {"type": "bar", "width": 3.8},
"encoding": {
"x": {"field": "i", "type": "quantitative"},
"y": {"field": "o", "type": "quantitative"},
"y2": {"field": "c"},
"color": {"condition": {"test": "datum.c < datum.o", "value": "#4caf50"}, "value": "#e0394f"}
}
},
{
"data": {"name": "signals"},
"mark": {"type": "point", "filled": true, "opacity": 1, "size": 40000, "strokeWidth": 0},
"encoding": {
"x": {"field": "i", "type": "quantitative"},
"y": {"field": "v", "type": "quantitative"},
"shape": {"field": "lbl", "type": "nominal", "legend": null, "scale": {"domain": ["KAUFEN", "VERKAUFEN"], "range": ["M0,0L0.17,0.17H0.62Q0.67,0.17 0.67,0.22V0.75Q0.67,0.8 0.62,0.8H-0.62Q-0.67,0.8 -0.67,0.75V0.22Q-0.67,0.17 -0.62,0.17H-0.17Z", "M0,0L-0.17,-0.17H-0.85Q-0.9,-0.17 -0.9,-0.22V-0.75Q-0.9,-0.8 -0.85,-0.8H0.85Q0.9,-0.8 0.9,-0.75V-0.22Q0.9,-0.17 0.85,-0.17H0.17Z"]}},
"color": {"field": "lbl", "type": "nominal", "legend": null, "scale": {"domain": ["KAUFEN", "VERKAUFEN"], "range": ["#22c55e", "#df3a4e"]}}
}
},
{
"data": {"name": "signals"},
"transform": [{"filter": "datum.lbl == 'KAUFEN'"}],
"mark": {"type": "text", "dy": 49, "fontSize": 23, "font": "DejaVu Sans", "color": "#ffffff", "align": "center", "baseline": "middle"},
"encoding": {
"x": {"field": "i", "type": "quantitative"},
"y": {"field": "v", "type": "quantitative"},
"text": {"field": "lbl"}
}
},
{
"data": {"name": "signals"},
"transform": [{"filter": "datum.lbl == 'VERKAUFEN'"}],
"mark": {"type": "text", "dy": -48, "fontSize": 23, "font": "DejaVu Sans", "color": "#ffffff", "align": "center", "baseline": "middle"},
"encoding": {
"x": {"field": "i", "type": "quantitative"},
"y": {"field": "v", "type": "quantitative"},
"text": {"field": "lbl"}
}
}
]
}
